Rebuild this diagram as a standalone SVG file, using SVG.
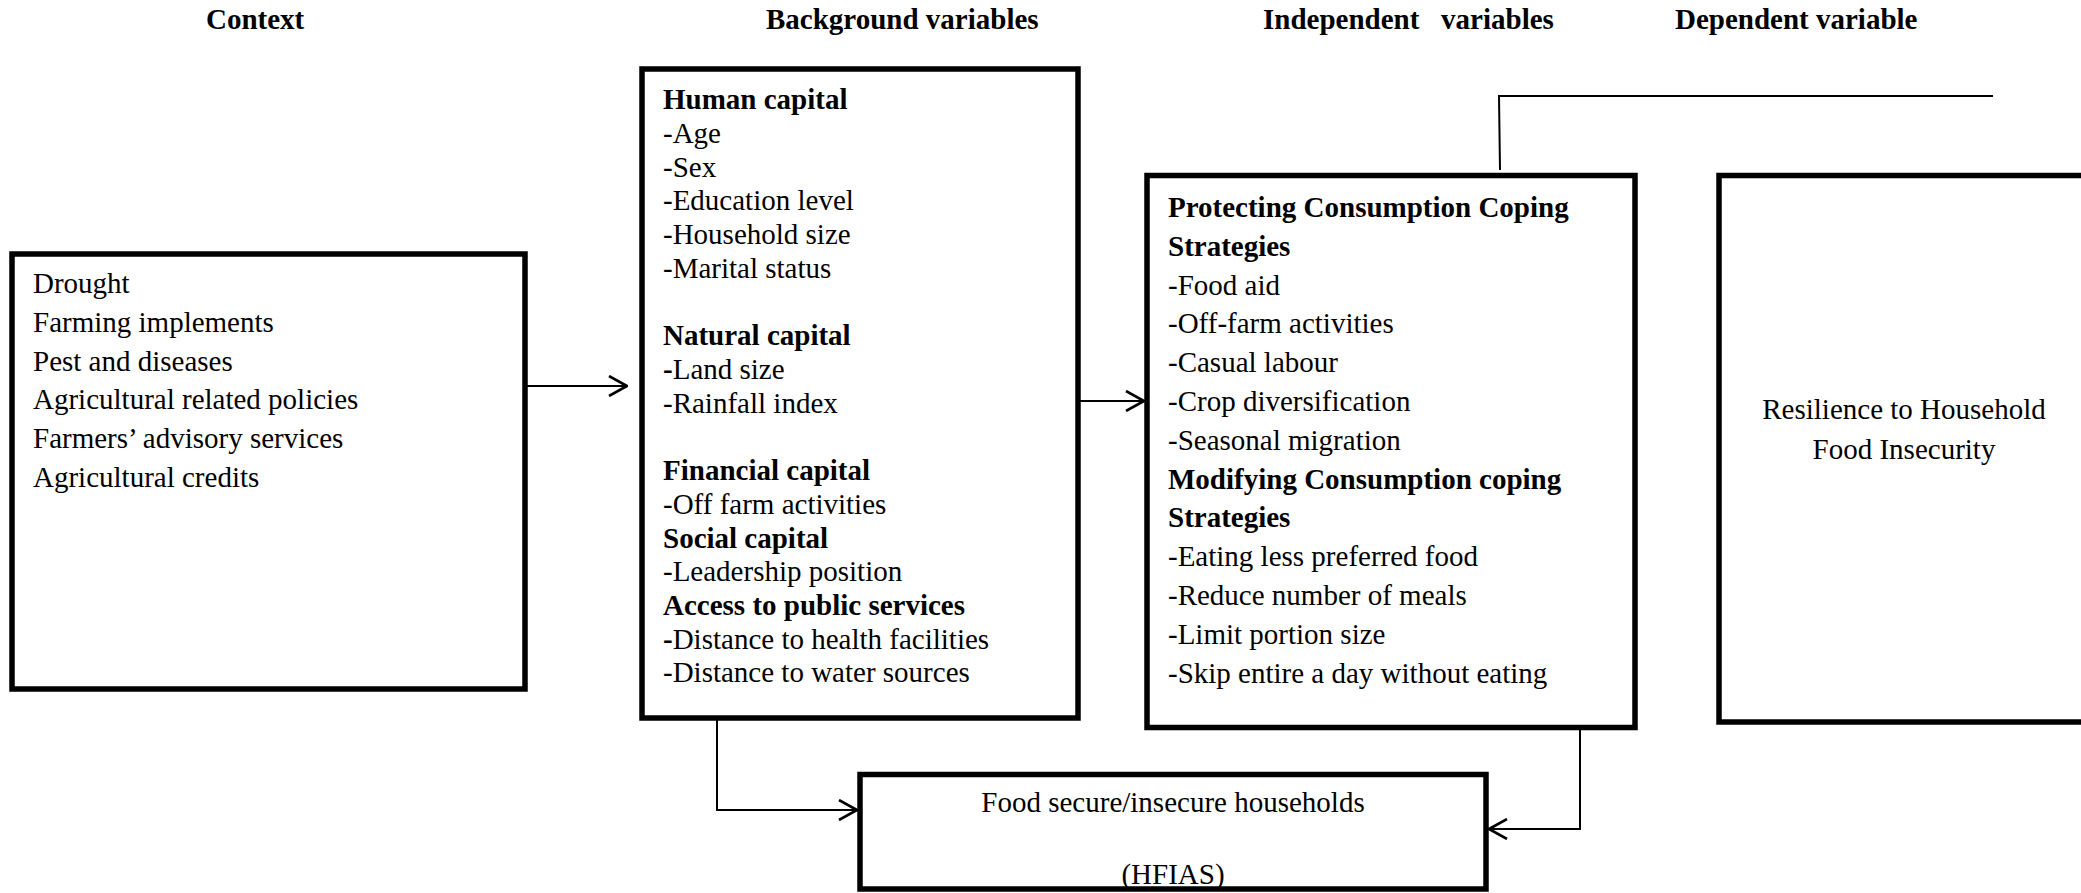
<svg xmlns="http://www.w3.org/2000/svg" width="2081" height="893" viewBox="0 0 2081 893">
<style>
text{font-family:"Liberation Serif","Times New Roman",serif;font-size:29px;fill:#000}
.h{font-weight:bold}
.b{font-weight:bold}
.box{fill:#fff;stroke:#000;stroke-width:5.5}
.ln{fill:none;stroke:#000;stroke-width:2}
</style>
<defs>
<marker id="ah" viewBox="0 0 20 22" refX="19" refY="11" markerWidth="20" markerHeight="22" markerUnits="userSpaceOnUse" orient="auto">
<path d="M1,1 L19,11 L1,21" fill="none" stroke="#000" stroke-width="2.6"/>
</marker>
</defs>
<rect width="2081" height="893" fill="#fff"/>
<g id="headers">
<text class="h" x="206" y="29">Context</text>
<text class="h" x="766" y="29">Background variables</text>
<text class="h" x="1263" y="29" xml:space="preserve">Independent   variables</text>
<text class="h" x="1675" y="29">Dependent variable</text>
</g>
<g id="context">
<rect class="box" x="12" y="254" width="513" height="435"/>
<text x="33" y="293">Drought</text>
<text x="33" y="331.8">Farming implements</text>
<text x="33" y="370.6">Pest and diseases</text>
<text x="33" y="409.4">Agricultural related policies</text>
<text x="33" y="448.2">Farmers’ advisory services</text>
<text x="33" y="487">Agricultural credits</text>
</g>
<g id="background">
<rect class="box" x="642" y="69" width="436" height="649"/>
<text class="b" x="663" y="109">Human capital</text>
<text x="663" y="142.7">-Age</text>
<text x="663" y="176.5">-Sex</text>
<text x="663" y="210.2">-Education level</text>
<text x="663" y="243.9">-Household size</text>
<text x="663" y="277.7">-Marital status</text>
<text class="b" x="663" y="345.1">Natural capital</text>
<text x="663" y="378.8"><tspan class="b">-</tspan>Land size</text>
<text x="663" y="412.6">-Rainfall index</text>
<text class="b" x="663" y="480">Financial capital</text>
<text x="663" y="513.8">-Off farm activities</text>
<text class="b" x="663" y="547.5">Social capital</text>
<text x="663" y="581.2">-Leadership position</text>
<text class="b" x="663" y="615">Access to public services</text>
<text x="663" y="648.7"><tspan class="b">-</tspan>Distance to health facilities</text>
<text x="663" y="682.4">-Distance to water sources</text>
</g>
<g id="independent">
<rect class="box" x="1147" y="175.5" width="488" height="552"/>
<text class="b" x="1168" y="217">Protecting Consumption Coping</text>
<text class="b" x="1168" y="255.8">Strategies</text>
<text x="1168" y="294.6">-Food aid</text>
<text x="1168" y="333.4">-Off-farm activities</text>
<text x="1168" y="372.2">-Casual labour</text>
<text x="1168" y="411">-Crop diversification</text>
<text x="1168" y="449.8">-Seasonal migration</text>
<text class="b" x="1168" y="488.6">Modifying Consumption coping</text>
<text class="b" x="1168" y="527.4">Strategies</text>
<text x="1168" y="566.2">-Eating less preferred food</text>
<text x="1168" y="605">-Reduce number of meals</text>
<text x="1168" y="643.8">-Limit portion size</text>
<text x="1168" y="682.6">-Skip entire a day without eating</text>
</g>
<g id="dependent">
<rect class="box" x="1719" y="175.5" width="372" height="546.5"/>
<text x="1904" y="419" text-anchor="middle">Resilience to Household</text>
<text x="1904" y="459" text-anchor="middle">Food Insecurity</text>
</g>
<g id="outcome">
<rect class="box" x="860" y="774.5" width="626" height="114.5"/>
<text x="1173" y="812" text-anchor="middle">Food secure/insecure households</text>
<text x="1173" y="884" text-anchor="middle">(HFIAS)</text>
</g>
<g id="connectors">
<line class="ln" x1="527" y1="386" x2="627" y2="386" marker-end="url(#ah)"/>
<line class="ln" x1="1080" y1="401" x2="1144" y2="401" marker-end="url(#ah)"/>
<polyline class="ln" points="717,720 717,810 857,810" marker-end="url(#ah)"/>
<polyline class="ln" points="1580,730 1580,829 1489,829" marker-end="url(#ah)"/>
<polyline class="ln" points="1500,170 1499,96 1993,96"/>
</g>
</svg>
